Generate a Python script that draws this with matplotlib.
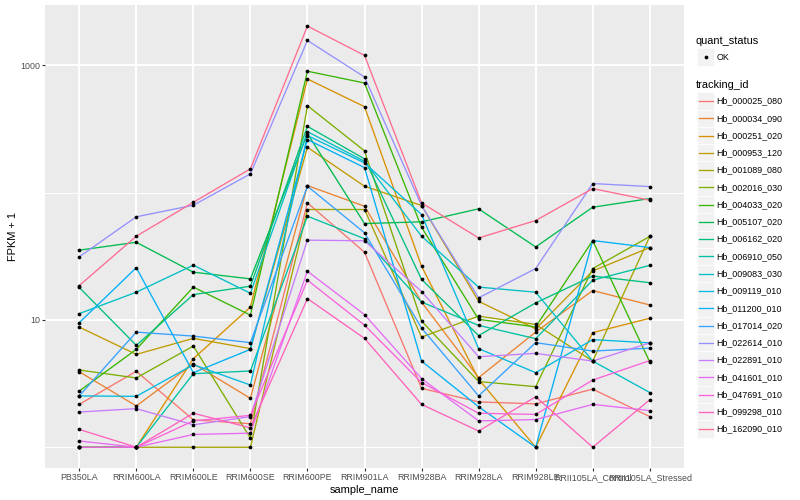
import matplotlib
matplotlib.use('Agg')
import matplotlib.pyplot as plt
from matplotlib.patches import Rectangle
from matplotlib.lines import Line2D
from matplotlib.ticker import FixedLocator, NullFormatter
import numpy as np

plt.rcParams['font.family'] = ['Liberation Sans', 'DejaVu Sans']

# samples on the x axis
samples = ["PB350LA", "RRIM600LA", "RRIM600LE", "RRIM600SE", "RRIM600PE", "RRIM901LA",
           "RRIM928BA", "RRIM928LA", "RRIM928LE", "RRII105LA_Control", "RRII105LA_Stressed"]

tracking_ids = ["Hb_000025_080", "Hb_000034_090", "Hb_000251_020", "Hb_000953_120",
                "Hb_001089_080", "Hb_002016_030", "Hb_004033_020", "Hb_005107_020",
                "Hb_006162_020", "Hb_006910_050", "Hb_009083_030", "Hb_009119_010",
                "Hb_011200_010", "Hb_017014_020", "Hb_022614_010", "Hb_022891_010",
                "Hb_041601_010", "Hb_047691_010", "Hb_099298_010", "Hb_162090_010"]

# FPKM + 1 per sample
hb_000025_080 = [2.17, 3.95, 1.64, 1.53, 83.0, 34.0, 2.90, 2.27, 2.19, 2.86, 1.74]
hb_000034_090 = [3.92, 2.11, 4.53, 2.42, 113.4, 78.1, 13.8, 3.52, 8.02, 17.0, 13.1]
hb_000251_020 = [1.0, 1.0, 4.96, 12.6, 779.6, 472.6, 26.4, 3.42, 1.0, 7.94, 10.3]
hb_000953_120 = [8.78, 5.36, 7.16, 5.95, 226.6, 112.1, 79.1, 14.0, 8.50, 24.2, 37.0]
hb_001089_080 = [1.0, 1.0, 1.0, 1.0, 73.6, 73.6, 7.33, 10.7, 9.22, 4.75, 45.2]
hb_002016_030 = [4.04, 3.50, 6.23, 1.18, 481.3, 212.4, 9.79, 3.28, 2.99, 25.3, 45.2]
hb_004033_020 = [2.76, 5.87, 18.1, 10.9, 897.0, 725.0, 53.4, 10.1, 8.81, 42.0, 4.67]
hb_005107_020 = [35.3, 40.7, 23.7, 21.0, 290.2, 57.1, 58.9, 74.5, 37.4, 76.7, 89.7]
hb_006162_020 = [18.0, 6.31, 15.8, 18.4, 331.1, 183.8, 20.8, 7.53, 13.6, 22.1, 19.6]
hb_006910_050 = [1.0, 1.0, 3.78, 3.97, 65.2, 43.4, 13.8, 9.06, 7.12, 20.5, 26.8]
hb_009083_030 = [11.2, 16.5, 26.9, 16.2, 300.9, 176.0, 45.4, 18.1, 16.5, 4.75, 2.69]
hb_009119_010 = [2.53, 2.51, 4.45, 3.08, 280.0, 171.0, 67.2, 5.95, 3.85, 7.00, 6.60]
hb_011200_010 = [9.51, 25.7, 3.85, 5.87, 260.4, 157.1, 4.75, 2.08, 1.0, 42.0, 37.0]
hb_017014_020 = [2.53, 8.02, 7.46, 6.63, 112.1, 48.3, 8.63, 2.53, 6.63, 5.69, 6.00]
hb_022614_010 = [31.3, 64.5, 79.5, 140.2, 1565.0, 808.0, 79.1, 14.9, 25.3, 117.7, 111.4]
hb_022891_010 = [1.89, 2.01, 1.50, 1.74, 42.3, 41.8, 16.7, 5.14, 5.46, 4.75, 6.60]
hb_041601_010 = [1.12, 1.0, 1.26, 1.29, 24.1, 11.0, 3.46, 1.61, 1.65, 2.17, 1.94]
hb_047691_010 = [1.0, 1.0, 1.61, 1.78, 20.5, 9.10, 3.22, 1.85, 1.81, 3.37, 4.79]
hb_099298_010 = [1.38, 1.0, 1.85, 1.42, 14.7, 7.16, 2.17, 1.34, 2.49, 1.0, 2.36]
hb_162090_010 = [18.6, 45.4, 83.9, 153.5, 2030.0, 1194.0, 83.0, 44.0, 60.3, 107.5, 87.0]

fpkm = [hb_000025_080, hb_000034_090, hb_000251_020, hb_000953_120, hb_001089_080,
        hb_002016_030, hb_004033_020, hb_005107_020, hb_006162_020, hb_006910_050,
        hb_009083_030, hb_009119_010, hb_011200_010, hb_017014_020, hb_022614_010,
        hb_022891_010, hb_041601_010, hb_047691_010, hb_099298_010, hb_162090_010]

# ggplot default hue palette, 20 levels
colors = ["#F8766D", "#EA8331", "#D89000", "#C09B00", "#A3A500", "#7CAE00", "#39B600",
          "#00BB4E", "#00BF7D", "#00C1A3", "#00BFC4", "#00BAE0", "#00B0F6", "#35A2FF",
          "#9590FF", "#C77CFF", "#E76BF3", "#FA62DB", "#FF62BC", "#FF6C91"]

W, H = 800, 500
fig = plt.figure(figsize=(W / 100, H / 100), dpi=100)
left, right, top, bottom = 45, 684, 5, 468.3
ax = fig.add_axes([left / W, 1 - bottom / H, (right - left) / W, (bottom - top) / H])
ax.set_facecolor('#EBEBEB')

x = np.arange(len(samples))
for vals, col in zip(fpkm, colors):
    ax.plot(x, vals, color=col, lw=0.95, zorder=3)
for vals in fpkm:
    ax.plot(x, vals, ls='none', marker='o', ms=2.7, mew=0, color='black', zorder=4)

ax.set_yscale('log')
allv = np.log10(np.concatenate([np.array(v) for v in fpkm]))
lo, hi = allv.min(), allv.max()
pad = 0.05 * (hi - lo)
ax.set_ylim(10 ** (lo - pad), 10 ** (hi + pad))
ax.set_xlim(-0.6, len(samples) - 0.4)

ax.yaxis.set_major_locator(FixedLocator([10, 1000]))
ax.set_yticklabels(["10", "1000"])
ax.yaxis.set_minor_locator(FixedLocator([1, 100]))
ax.yaxis.set_minor_formatter(NullFormatter())
ax.set_xticks(x)
ax.set_xticklabels(samples)

ax.grid(which='major', color='white', lw=1.4)
ax.grid(which='minor', axis='y', color='white', lw=0.7)
ax.set_axisbelow(True)
for s in ax.spines.values():
    s.set_visible(False)
ax.tick_params(which='major', length=2, width=0.8, color='#333333',
               labelsize=6.4, labelcolor='#4D4D4D', pad=1.6)
ax.tick_params(which='minor', length=0)
ax.set_xlabel("sample_name", fontsize=7.9, labelpad=2)
ax.set_ylabel("FPKM + 1", fontsize=7.9, labelpad=1.5)


# legend, drawn by hand in pixel units
def fx(px):
    return px / W


def fy(py):
    return 1 - py / H


kx0, kx1 = 697, 714
fig.text(fx(696), fy(40.7), "quant_status", fontsize=7.9, va='center', ha='left')
fig.patches.append(Rectangle((fx(kx0), fy(65.6)), fx(kx1) - fx(kx0), 17.2 / H,
                             transform=fig.transFigure, facecolor='#F2F2F2',
                             edgecolor='white', lw=0.5))
fig.lines.append(Line2D([fx(705.5)], [fy(57)], transform=fig.transFigure, ls='none',
                        marker='o', ms=2.7, mew=0, color='black'))
fig.text(fx(716.5), fy(57), "OK", fontsize=6.4, va='center', ha='left')

fig.text(fx(696), fy(84.7), "tracking_id", fontsize=7.9, va='center', ha='left')
step = 17.27
for i, (name, col) in enumerate(zip(tracking_ids, colors)):
    cy = 101 + i * step
    fig.patches.append(Rectangle((fx(kx0), fy(cy + step / 2)), fx(kx1) - fx(kx0), step / H,
                                 transform=fig.transFigure, facecolor='#F2F2F2',
                                 edgecolor='white', lw=0.5))
    fig.lines.append(Line2D([fx(698.5), fx(712.5)], [fy(cy), fy(cy)],
                            transform=fig.transFigure, color=col, lw=0.95))
    fig.text(fx(716.5), fy(cy), name, fontsize=6.4, va='center', ha='left')

fig.savefig("out.png", dpi=100)
